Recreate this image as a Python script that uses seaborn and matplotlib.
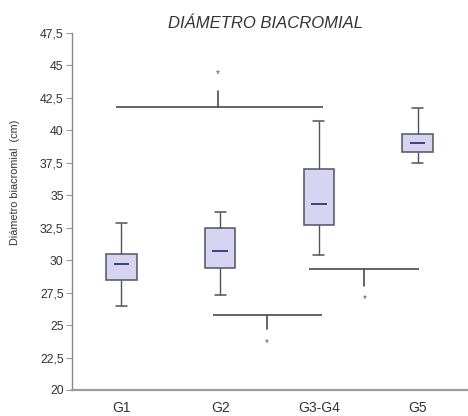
import numpy as np
import pandas as pd
import matplotlib
matplotlib.use("Agg")
import matplotlib.pyplot as plt
import seaborn as sns

# Five-number summaries per group: minimum, Q1, median, Q3, maximum (cm)
groups = ["G1", "G2", "G3-G4", "G5"]
g1_vals = [26.5, 28.5, 29.7, 30.5, 32.9]
g2_vals = [27.3, 29.4, 30.7, 32.5, 33.7]
g34_vals = [30.4, 32.7, 34.3, 37.0, 40.7]
g5_vals = [37.5, 38.3, 39.0, 39.7, 41.7]

y_ticks = [20, 22.5, 25, 27.5, 30, 32.5, 35, 37.5, 40, 42.5, 45, 47.5]
y_tick_labels = ["20", "22,5", "25", "27,5", "30", "32,5", "35", "37,5",
                 "40", "42,5", "45", "47,5"]

# Significance brackets: (x start, x end, x of stem, bar level, stem end, star level)
brackets = [
    (-0.05, 2.04, 0.98, 41.8, 43.0, 44.3),
    (0.93, 2.03, 1.47, 25.8, 24.7, 23.6),
    (1.90, 3.01, 2.46, 29.3, 28.0, 27.0),
]

df = pd.DataFrame({
    "grupo": np.repeat(groups, 5),
    "valor": g1_vals + g2_vals + g34_vals + g5_vals,
})

sns.set_style("white")
plt.rcParams["font.family"] = ["Liberation Sans", "DejaVu Sans"]

fig = plt.figure(figsize=(4.68, 4.16), dpi=100)
ax = fig.add_axes([72 / 468, 1 - 390 / 416, 395 / 468, 357 / 416])

edge = "#505266"
median_color = "#23286e"
box_w = 0.31

sns.boxplot(
    data=df, x="grupo", y="valor", order=groups, ax=ax,
    width=box_w, whis=(0, 100), color="#d5d5f1", linecolor=edge,
    linewidth=1.0, fliersize=0,
    medianprops=dict(color=median_color, linewidth=1.2),
    boxprops=dict(facecolor="#d5d5f1", edgecolor=edge, linewidth=1.1),
    whiskerprops=dict(color=edge, linewidth=1.0),
    capprops=dict(color=edge, linewidth=1.1),
)

# shorten the median bars and caps
for ln in ax.lines:
    xd = np.asarray(ln.get_xdata(), dtype=float)
    yd = np.asarray(ln.get_ydata(), dtype=float)
    if len(xd) == 2 and yd[0] == yd[1] and xd[0] != xd[1]:
        c = (xd[0] + xd[1]) / 2
        if matplotlib.colors.to_hex(ln.get_color()) == median_color:
            half = box_w * 0.25
        else:
            half = 0.055
        ln.set_xdata([c - half, c + half])

for x0, x1, xs, yb, ye, ystar in brackets:
    ax.plot([x0, x1], [yb, yb], color="#4a4a4a", lw=1.2, solid_capstyle="butt")
    ax.plot([xs, xs], [yb, ye], color="#4a4a4a", lw=1.2)
    ax.text(xs, ystar, "*", ha="center", va="center", fontsize=7, color="#555555")

ax.set_xlim(-0.5, 3.5)
ax.set_ylim(20, 47.5)
ax.set_yticks(y_ticks)
ax.set_yticklabels(y_tick_labels)
ax.set_xlabel("")
ax.set_ylabel("")

for side in ["top", "right"]:
    ax.spines[side].set_visible(False)
ax.spines["left"].set_color("#8a8a8a")
ax.spines["left"].set_linewidth(1.0)
ax.spines["bottom"].set_color("#9a9a9a")
ax.spines["bottom"].set_linewidth(1.6)

ax.tick_params(axis="y", direction="out", length=4, width=0.8, color="#9a9a9a",
               pad=2, labelsize=8.8, labelcolor="#333333", left=True)
ax.tick_params(axis="x", length=0, pad=8, labelsize=10, labelcolor="#333333")

fig.text(266 / 468, 1 - 24 / 416, "DIÁMETRO BIACROMIAL", ha="center", va="center",
         fontsize=12, style="italic", color="#333333")
fig.text(15 / 468, 1 - 182 / 416, "Diámetro biacromial  (cm)", rotation=90,
         ha="center", va="center", fontsize=7.8, color="#333333")

fig.savefig("out.png", dpi=100)
